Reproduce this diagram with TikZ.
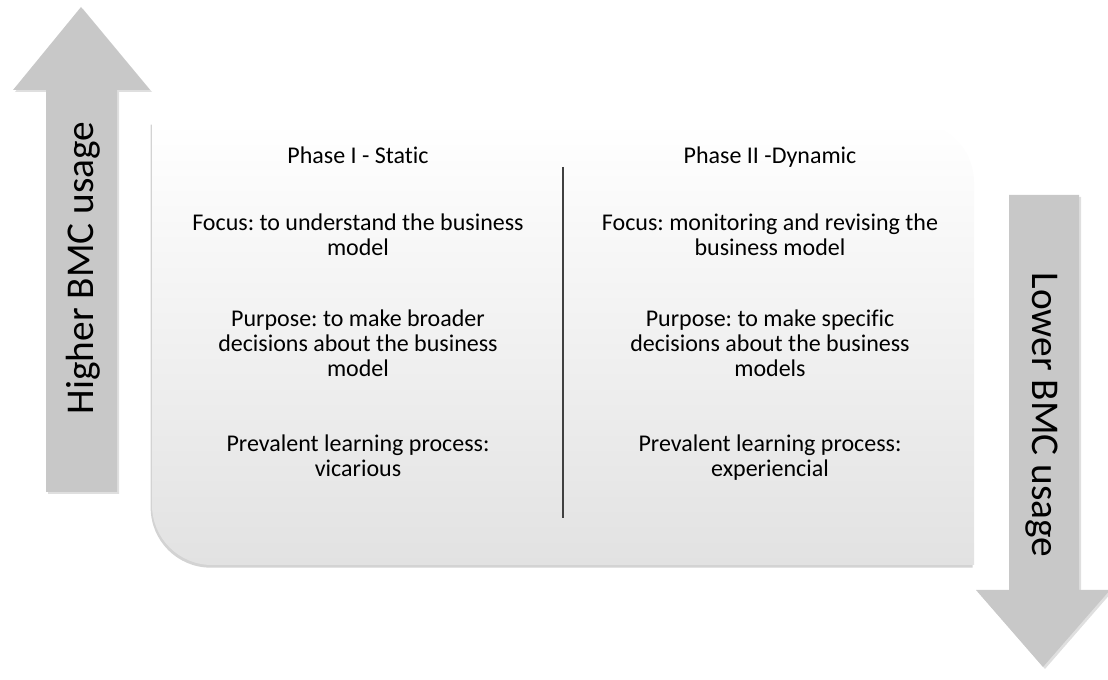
\documentclass[tikz,border=0pt]{standalone}
\usepackage{fontspec}
\setmainfont{Carlito}[Ligatures=NoCommon]
\frenchspacing
\usetikzlibrary{positioning,shadows}
\definecolor{arwgray}{HTML}{C8C8C8}
\definecolor{boxlow}{HTML}{E2E2E2}
\tikzset{
  arw/.style    = { fill=arwgray, drop shadow={opacity=0.25, shadow xshift=1.5pt, shadow yshift=-1.5pt} },
  phbox/.style  = { top color=white, bottom color=boxlow,
    drop shadow={opacity=0.35, shadow xshift=-1pt, shadow yshift=-2pt} },
  cell/.style   = { align=center, inner sep=0pt, font=\fontsize{18}{18.75}\selectfont,
    execute at begin node=\strut, execute at end node=\strut },
  side/.style   = { inner sep=0pt, anchor=base, font=\fontsize{29.5}{32}\selectfont },
  divider/.style= { draw=black!75, line width=1pt }
}

\begin{document}
\begin{tikzpicture}[x=0.75pt, y=-0.75pt, on grid]
  \useasboundingbox (0,0) rectangle (1108,680);
  % up and down arrows
  \path[arw] (81,7) -- (150,90) -- (117,90) -- (117,492) -- (46,492) -- (46,90) -- (13,90) -- cycle;
  \path[arw] (1009,195) -- (1079,195) -- (1079,590) -- (1110,590) -- (1043,667) -- (976,590) -- (1009,590) -- cycle;
  \node[side, rotate=90] (hi) at (93,268) {Higher BMC usage};
  \node[side, rotate=-90] (lo) at (1032,415) {Lower BMC usage};
  % phases box
  \path[phbox] (152,122) -- (914,122) arc[start angle=90, end angle=0, radius=45pt]
    -- (974,565) -- (212,565) arc[start angle=270, end angle=180, radius=45pt] -- cycle;
  \coordinate (d1) at (563,167);
  \coordinate (d2) at (563,518);
  \draw[divider] (d1) -- (d2);
  % phase I
  \node[cell] (ph1) at (358,159) {Phase I - Static};
  \node[cell, below=59.6pt of ph1] (fo1) {Focus: to understand the business\\model};
  \node[cell, below=81.4pt of fo1] (pu1) {Purpose: to make broader\\decisions about the business\\model};
  \node[cell, below=84.4pt of pu1] (pr1) {Prevalent learning process:\\vicarious};
  % phase II
  \node[cell] (ph2) at (770,159) {Phase II -Dynamic};
  \node[cell, below=59.6pt of ph2] (fo2) {Focus: monitoring and revising the\\business model};
  \node[cell, below=81.4pt of fo2] (pu2) {Purpose: to make specific\\decisions about the business\\models};
  \node[cell, below=84.4pt of pu2] (pr2) {Prevalent learning process:\\experiencial};
\end{tikzpicture}
\end{document}
